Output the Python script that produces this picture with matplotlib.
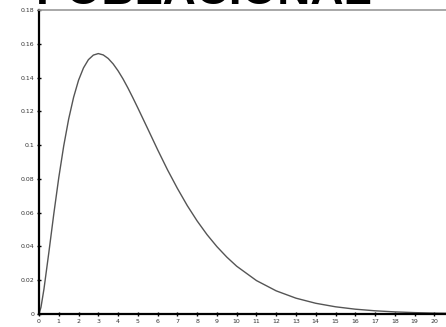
import matplotlib
matplotlib.use("Agg")
import matplotlib.pyplot as plt

x_vals = [0, 0.1, 0.25, 0.5, 0.75, 1, 1.25, 1.5, 1.75, 2, 2.25, 2.5, 2.75, 3, 3.25, 3.5,
          3.75, 4, 4.25, 4.5, 4.75, 5, 5.5, 6, 6.5, 7, 7.5, 8, 8.5, 9, 9.5, 10, 11, 12,
          13, 14, 15, 16, 17, 18, 19, 20, 20.6]
y_vals = [0, 0.0040, 0.0147, 0.0366, 0.0594, 0.0807, 0.0995, 0.1154, 0.1283, 0.1384,
          0.1457, 0.1506, 0.1533, 0.1542, 0.1534, 0.1513, 0.1481, 0.1440, 0.1392,
          0.1338, 0.1280, 0.1220, 0.1097, 0.0973, 0.0854, 0.0744, 0.0642, 0.0551,
          0.0470, 0.0399, 0.0337, 0.0283, 0.0198, 0.0137, 0.00937, 0.00635, 0.00427,
          0.00285, 0.00190, 0.00125, 0.00082, 0.00054, 0.00045]
x_ticks = list(range(0, 21))
y_ticks = [0, 0.02, 0.04, 0.06, 0.08, 0.1, 0.12, 0.14, 0.16, 0.18]
y_labels = ["0", "0.02", "0.04", "0.06", "0.08", "0.1", "0.12", "0.14", "0.16", "0.18"]
title = "POBLACIONAL"

fig = plt.figure(figsize=(4.46, 3.27), dpi=100)
ax = fig.add_axes([39/446, 1-314/327, 1-39/446, (314-10)/327])
ax.plot(x_vals, y_vals, color="#555555", lw=1.0, solid_joinstyle="round")
ax.set_xlim(0, 20.59)
ax.set_ylim(0, 0.18)
ax.set_xticks(x_ticks)
ax.set_xticklabels([str(t) for t in x_ticks])
ax.set_yticks(y_ticks)
ax.set_yticklabels(y_labels)
ax.tick_params(axis="both", labelsize=4.5, labelcolor="#333333", direction="inout",
               length=3, width=1, color="black", pad=2)
for s in ["left", "bottom"]:
    ax.spines[s].set_linewidth(1.6)
    ax.spines[s].set_color("black")
ax.spines["right"].set_visible(False)
ax.spines["top"].set_color("#999999")
ax.spines["top"].set_linewidth(1.2)

fig.text(204.5/446, 1-3.5/327, title, ha="center", va="baseline", fontsize=33,
         fontweight="bold", family="Liberation Sans", color="black")
fig.savefig("out.png", dpi=100)
